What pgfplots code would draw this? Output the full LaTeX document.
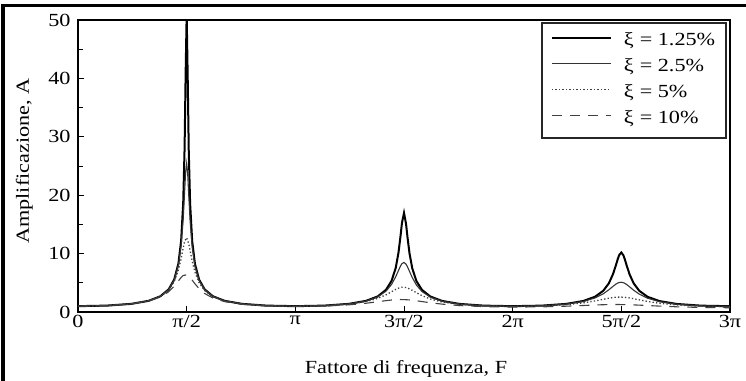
\documentclass[border=0pt]{standalone}
\usepackage{fontspec}
\setmainfont{Liberation Serif}[FakeStretch=1.2]
\usepackage{pgfplots}
\pgfplotsset{compat=1.18}

\newcommand{\labfont}{\fontsize{18.5bp}{22bp}\selectfont}

\begin{document}
\begin{tikzpicture}
\useasboundingbox (-78bp,-69bp) rectangle (668bp,312bp);
% outer frame (left and top edges)
\draw[line width=3.5bp] (-74.8bp,-75bp) -- (-74.8bp,306.7bp) -- (675bp,306.7bp);
\begin{axis}[
  at={(0bp,0bp)}, anchor=south west,
  scale only axis, width=652bp, height=292bp,
  xmin=0, xmax=9.424778, ymin=0, ymax=50,
  no markers,
  axis line style={line width=1.4bp},
  font=\labfont,
  /pgf/number format/assume math mode=true,
  xtick={0,1.570796,3.141593,4.712389,6.283185,7.853982,9.424778},
  xticklabels={0,π/2,π,3π/2,2π,5π/2,3π},
  ytick={0,10,...,50}, minor ytick={5,15,...,45},
  tick align=inside, tick pos=left,
  major tick length=6bp, minor tick length=5bp,
  tick style={line width=1bp, black},
  yticklabel style={xshift=-4bp},
  legend style={at={(rel axis cs:0.9954,0.9932)}, anchor=north east,
    draw=black!85, line width=1.6bp, fill=white,
    inner xsep=9bp, inner ysep=10bp, row sep=9bp, column sep=10bp,
    font=\labfont,
    nodes={inner xsep=2bp, inner ysep=0bp, text height=13bp, text depth=4bp}},
  legend cell align=left,
  legend image code/.code={\draw[#1] (0bp,3.5bp) -- (59bp,3.5bp);},
]
% damping ratio 1.25 %
\addplot[black, line width=2bp] coordinates {
(0,1.0000) (0.4208,1.0956) (0.7708,1.3939) (1.0208,1.9126) (1.1908,2.6938)
(1.3108,3.8820) (1.3908,5.5595) (1.4508,8.2591) (1.4908,12.186) (1.5208,18.701)
(1.5408,28.054) (1.5558,40.716) (1.5708,50.93) (1.5858,40.228) (1.6008,27.734)
(1.6208,18.543) (1.6508,12.116) (1.6908,8.2261) (1.7508,5.5444) (1.8308,3.8745)
(1.9508,2.6902) (2.1208,1.9107) (2.3708,1.3928) (2.7208,1.0948) (3.1416,0.9992)
(3.5624,1.0943) (3.9124,1.3908) (4.1624,1.9038) (4.3324,2.6677) (4.4524,3.8018)
(4.5324,5.3254) (4.5924,7.5322) (4.6324,10.133) (4.6624,13.025) (4.6824,15.205)
(4.7124,16.977) (4.7424,15.052) (4.7624,12.865) (4.7924,10.013) (4.8324,7.4578)
(4.8924,5.2858) (4.9724,3.7809) (5.0924,2.6572) (5.2624,1.8982) (5.5124,1.3876)
(5.8624,1.0921) (6.2832,0.9969) (6.7040,1.0910) (7.0540,1.3836) (7.3040,1.8847)
(7.4740,2.6143) (7.5940,3.6490) (7.6740,4.9235) (7.7340,6.4989) (7.7740,7.9482)
(7.8040,9.1234) (7.8240,9.7755) (7.8540,10.186) (7.8840,9.7075) (7.9040,9.0317)
(7.9340,7.8514) (7.9740,6.4195) (8.0340,4.8716) (8.1140,3.6184) (8.2340,2.5978)
(8.4040,1.8757) (8.6540,1.3784) (9.0040,1.0873) (9.4248,0.9931)
};
\addlegendentry{ξ\hspace{6bp}= 1.25\%}
% damping ratio 2.5 %
\addplot[black!80, line width=1.1bp] coordinates {
(0,1.0000) (0.4208,1.0955) (0.7708,1.3935) (1.0208,1.9109) (1.1908,2.6874)
(1.3108,3.8586) (1.3908,5.4832) (1.4508,7.9945) (1.4908,11.341) (1.5208,15.925)
(1.5408,20.483) (1.5558,23.988) (1.5708,25.465) (1.5858,23.592) (1.6008,19.995)
(1.6208,15.542) (1.6508,11.118) (1.6908,7.8768) (1.7508,5.4258) (1.8308,3.8296)
(1.9508,2.6730) (2.1208,1.9034) (2.3708,1.3893) (2.7208,1.0925) (3.1416,0.9969)
(3.5624,1.0904) (3.9124,1.3812) (4.1624,1.8764) (4.3324,2.5879) (4.4524,3.5696)
(4.5324,4.7198) (4.5924,6.0289) (4.6324,7.1070) (4.6624,7.8850) (4.6824,8.2753)
(4.7124,8.4883) (4.7424,8.1769) (4.7624,7.7445) (4.7924,6.9436) (4.8324,5.8797)
(4.8924,4.6121) (4.9724,3.5019) (5.0924,2.5500) (5.2624,1.8553) (5.5124,1.3690)
(5.8624,1.0817) (6.2832,0.9879) (6.7040,1.0776) (7.0540,1.3537) (7.3040,1.8061)
(7.4740,2.4078) (7.5940,3.1291) (7.6740,3.8109) (7.7340,4.3974) (7.7740,4.7588)
(7.8040,4.9653) (7.8240,5.0534) (7.8540,5.0930) (7.8840,5.0158) (7.9040,4.9062)
(7.9340,4.6763) (7.9740,4.3005) (8.0340,3.7167) (8.1140,3.0537) (8.2340,2.3573)
(8.4040,1.7752) (8.6540,1.3346) (9.0040,1.0637) (9.4248,0.9734)
};
\addlegendentry{ξ\hspace{6bp}= 2.5\%}
% damping ratio 5 %
\addplot[black!75, line width=1.3bp, dash pattern=on 1.3bp off 2.2bp] coordinates {
(0,1.0000) (0.4208,1.0953) (0.7708,1.3920) (1.0208,1.9041) (1.1908,2.6619)
(1.3108,3.7693) (1.3908,5.2067) (1.4508,7.1441) (1.4908,9.1506) (1.5208,10.990)
(1.5408,12.096) (1.5708,12.732) (1.6008,11.699) (1.6208,10.503) (1.6508,8.7041)
(1.6908,6.8235) (1.7508,5.0179) (1.8308,3.6645) (1.9508,2.6073) (2.1208,1.8750)
(2.3708,1.3754) (2.7208,1.0836) (3.1416,0.9879) (3.5624,1.0753) (3.9124,1.3449)
(4.1624,1.7775) (4.3324,2.3281) (4.4524,2.9406) (4.5324,3.4626) (4.5924,3.8617)
(4.6324,4.0813) (4.6624,4.1943) (4.6824,4.2367) (4.7124,4.2441) (4.7424,4.1839)
(4.7624,4.1100) (4.7924,3.9589) (4.8324,3.7085) (4.8924,3.2989) (4.9724,2.7962)
(5.0924,2.2227) (5.2624,1.7089) (5.5124,1.3013) (5.8624,1.0431) (6.2832,0.9540)
(6.7040,1.0284) (7.0540,1.2510) (7.3040,1.5683) (7.4740,1.8992) (7.5940,2.1808)
(7.6740,2.3618) (7.7340,2.4703) (7.7740,2.5200) (7.8040,2.5420) (7.8240,2.5488)
(7.8540,2.5465) (7.8840,2.5295) (7.9040,2.5104) (7.9340,2.4712) (7.9740,2.4022)
(8.0340,2.2738) (8.1140,2.0821) (8.2340,1.8046) (8.4040,1.4911) (8.6540,1.1937)
(9.0040,0.9826) (9.4248,0.9046)
};
\addlegendentry{ξ\hspace{6bp}= 5\%}
% damping ratio 10 %
\addplot[black!75, line width=1.1bp, dash pattern=on 10bp off 8bp] coordinates {
(0,1.0000) (0.4208,1.0944) (0.7708,1.3860) (1.0208,1.8777) (1.1908,2.5670)
(1.3108,3.4654) (1.3908,4.4110) (1.4508,5.3165) (1.4908,5.9120) (1.5208,6.2468)
(1.5708,6.3662) (1.6208,5.8959) (1.6508,5.4524) (1.6908,4.8270) (1.7508,3.9935)
(1.8308,3.1685) (1.9508,2.3861) (2.1208,1.7728) (2.3708,1.3236) (2.7208,1.0499)
(3.1416,0.9540) (3.5624,1.0206) (3.9124,1.2238) (4.1624,1.4966) (4.3324,1.7534)
(4.4524,1.9451) (4.5324,2.0521) (4.5924,2.1071) (4.6324,2.1273) (4.6624,2.1326)
(4.7124,2.1221) (4.7624,2.0883) (4.7924,2.0582) (4.8324,2.0087) (4.8924,1.9195)
(4.9724,1.7865) (5.0924,1.5873) (5.2624,1.3482) (5.5124,1.1054) (5.8624,0.9218)
(6.2832,0.8467) (6.7040,0.8830) (7.0540,0.9940) (7.3040,1.1134) (7.4740,1.1985)
(7.5940,1.2473) (7.6740,1.2690) (7.7340,1.2778) (7.7740,1.2796) (7.8040,1.2788)
(7.8540,1.2732) (7.9040,1.2627) (7.9340,1.2541) (7.9740,1.2402) (8.0340,1.2149)
(8.1140,1.1749) (8.2340,1.1073) (8.4040,1.0104) (8.6540,0.8896) (9.0040,0.7800)
(9.4248,0.7277)
};
\addlegendentry{ξ\hspace{6bp}= 10\%}
\end{axis}
\node[anchor=base, font=\labfont] at (328bp,-61bp) {Fattore di frequenza, F};
\node[anchor=base, rotate=90, font=\labfont] at (-49bp,151bp) {Amplificazione, A};
\end{tikzpicture}
\end{document}
